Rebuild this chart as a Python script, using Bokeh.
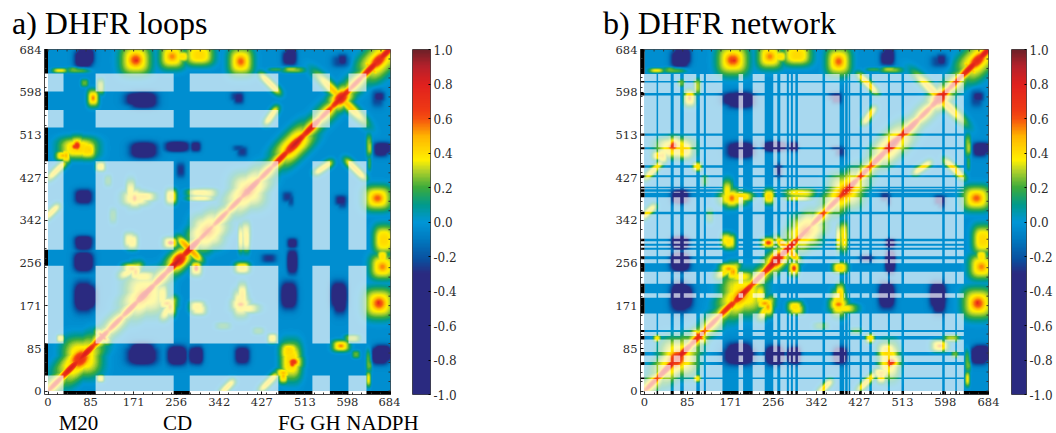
import numpy as np
from bokeh.core.properties import value
from bokeh.embed import file_html
from bokeh.resources import INLINE
from bokeh.layouts import column, row
from bokeh.models import FixedTicker, LinearColorMapper, PrintfTickFormatter, Range1d
from bokeh.plotting import figure

tick_values = [0, 85, 171, 256, 342, 427, 513, 598, 684]
fine_ticks = list(range(0, 684, 19))
bar_ticks = [-1.0, -0.8, -0.6, -0.4, -0.2, 0.0, 0.2, 0.4, 0.6, 0.8, 1.0]
titles = ["a) DHFR loops", "b) DHFR network"]
loop_names = ["M20", "CD", "FG", "GH", "NADPH"]
loop_centres = [61, 259, 487, 555, 669]

# residues left unfaded in each panel
segments_a = [(31, 95), (251, 283), (460, 528), (563, 600), (636, 684)]
segments_b = [(24, 27), (52, 58), (71, 78), (103, 110), (118, 122), (155, 187), (196, 215),
              (239, 256), (264, 270), (283, 287), (291, 295), (300, 305), (354, 359),
              (388, 397), (399, 404), (406, 409), (428, 432), (447, 452), (484, 488),
              (511, 516), (592, 597), (618, 621), (635, 684)]

# colour scale
scale_values = [-1.0, -0.3, -0.22, -0.1, 0.0, 0.1, 0.2, 0.3, 0.36, 0.5, 0.6, 0.65, 0.8, 0.9, 1.0]
scale_colors = ["#2a2a80", "#2a2a80", "#0a4f9e", "#007ac0", "#0096d6", "#009a8c", "#3cab3c",
                "#b4d22a", "#fff000", "#ffb400", "#f5500f", "#ef3a14", "#e0201e", "#b8202a", "#6e2028"]

# diagonal ridge: position, amplitude
ridge_pos = [15, 45, 75, 105, 135, 165, 195, 225, 255, 285, 315, 345, 375, 405, 435, 465, 495,
             525, 555, 585, 615, 645, 675]
ridge_amp = [.72, .85, .85, .75, .72, .75, .85, .75, .9, .85, .72, .72, .72, .85, .72, .8, .9,
             .85, .72, .85, .72, .85, .85]

# thin oblique patches: x, y, half-length, short sigma, angle, value
streaks = [
    (585, 585, 64, 8, 135, .48), (283, 283, 30, 7, 135, .55), (645, 645, 16, 3, 135, .55),
    (18, 441, 24, 6, 45, .44), (8, 358, 18, 6, 45, .44), (443, 614, 26, 6, 135, .46),
    (446, 550, 20, 6, 55, .44), (165, 240, 24, 8, 30, .42),
]
# correlation blocks: x, y, half-width, half-height, angle, value
warm = [
    (62, 62, 30, 15, 45, .5), (62, 66, 22, 14, 45, .72), (108, 110, 10, 5, 135, .7),
    (68, 68, 20, 20, 0, .45),
    (190, 190, 26, 16, 45, .62), (190, 190, 22, 8, 45, .84), (195, 195, 22, 22, 0, .42),
    (262, 262, 17, 11, 45, .85), (318, 320, 22, 15, 45, .6), (318, 320, 16, 16, 0, .42),
    (400, 398, 28, 14, 45, .62), (398, 398, 12, 8, 45, .8), (400, 400, 18, 18, 0, .42),
    (491, 491, 28, 9, 45, .84), (491, 491, 26, 14, 45, .45),
    (585, 585, 16, 11, 45, .85), (660, 660, 22, 11, 45, .78), (660, 660, 24, 16, 45, .42),
    (175, 661, 16, 16, 0, .66), (176, 660, 6, 5, 0, .78), (248, 668, 13, 13, 0, .58),
    (268, 668, 8, 6, 0, .42), (302, 671, 15, 11, 0, .44), (385, 658, 13, 15, 0, .62),
    (90, 585, 6, 9, 0, .58), (55, 488, 9, 7, 0, .7), (82, 481, 7, 8, 0, .46), (36, 470, 5, 8, 0, .5),
    (60, 485, 20, 11, 0, .44), (78, 482, 10, 10, 0, .44), (58, 490, 8, 10, 0, .72), (30, 470, 8, 5, 0, .5),
    (173, 385, 7, 10, 0, .6), (190, 388, 13, 5, 0, .46), (246, 388, 6, 8, 0, .45),
    (305, 396, 14, 4, 0, .42), (305, 385, 14, 3, 0, .4),
    (168, 244, 10, 6, 0, .55), (238, 175, 10, 6, 0, .55), (228, 190, 14, 6, 90, .4),
    (385, 175, 8, 14, 0, .44), (395, 165, 14, 5, 0, .4), (298, 168, 8, 6, 0, .42),
    (395, 315, 5, 12, 0, .38), (163, 301, 6, 8, 0, .4), (245, 296, 8, 6, 0, .68),
    (24, 640, 8, 2.5, 0, .38), (54, 643, 6, 2, 0, .3), (486, 643, 8, 2.5, 0, .36), (455, 642, 8, 2, 0, .2),
    (105, 608, 4, 8, 0, .33), (73, 615, 4, 4, 0, .26), (105, 448, 5, 5, 0, .42), (24, 105, 3, 3, 0, .4),
    (105, 25, 4, 4, 0, .4), (641, 60, 3, 12, 0, .3), (641, 490, 3, 12, 0, .3),
    (350, 130, 8, 4, 0, .2), (420, 120, 6, 4, 0, .2),
]
cool = [
    (71, 663, 12, 12, 0, -.48), (481, 665, 9, 10, 0, -.38), (585, 658, 12, 8, 0, -.22),
    (185, 583, 20, 9, 0, -.48), (378, 588, 9, 6, 0, -.24), (661, 588, 8, 7, 0, -.3),
    (188, 481, 15, 9, 0, -.48), (258, 488, 16, 7, 0, -.48), (295, 488, 7, 6, 0, -.36),
    (668, 485, 12, 8, 0, -.42), (381, 485, 8, 4, 0, -.2),
    (71, 388, 12, 10, 0, -.42), (71, 295, 12, 10, 0, -.42), (71, 258, 12, 12, 0, -.48),
    (71, 188, 13, 20, 0, -.48), (188, 75, 17, 14, 0, -.52), (258, 71, 13, 13, 0, -.52),
    (298, 71, 8, 12, 0, -.48), (388, 75, 10, 8, 0, -.42), (668, 75, 12, 11, 0, -.52),
    (481, 191, 11, 18, 0, -.48), (581, 191, 11, 18, 0, -.48), (488, 295, 7, 7, 0, -.36),
    (488, 258, 7, 12, 0, -.48), (478, 388, 7, 7, 0, -.24), (585, 381, 8, 7, 0, -.3),
    (265, 441, 6, 10, 0, -.25),
]
base_level = -0.03


def rotated(X, Y, item):
    x0, y0, s_long, s_short, angle, level = item
    t = np.deg2rad(angle)
    u = (X - x0) * np.cos(t) + (Y - y0) * np.sin(t)
    v = -(X - x0) * np.sin(t) + (Y - y0) * np.cos(t)
    return u / s_long, v / s_short, level


def soft(X, Y, item):
    u, v, level = rotated(X, Y, item)
    return level * np.exp(-0.5 * (u ** 2 + v ** 2))


def streak(X, Y, item):
    u, v, level = rotated(X, Y, item)
    return level * np.exp(-0.5 * (np.abs(u) ** 4 + v ** 2))


def block(X, Y, item, grow, top=None):
    u, v, level = rotated(X, Y, item)
    if top is not None:
        level = min(level, top)
    return level * np.exp(-0.5 * (np.abs(u / grow) ** 3 + np.abs(v / grow) ** 3))


axis_cells = np.arange(0, 684, 2) + 1.0
X, Y = np.meshgrid(axis_cells, axis_cells)
hot = np.zeros_like(X)
for pos, amp in zip(ridge_pos, ridge_amp):
    hot = np.maximum(hot, soft(X, Y, (pos, pos, 34, 6.5, 45, amp)))
    hot = np.maximum(hot, soft(X, Y, (pos, pos, 34, 13, 45, .44)))
for item in streaks:
    hot = np.maximum(hot, streak(X, Y, item))
for item in warm:
    hot = np.maximum(hot, block(X, Y, item, 1.6, top=.44))
    hot = np.maximum(hot, soft(X, Y, item))
cold = np.zeros_like(X)
for item in cool:
    cold = np.minimum(cold, block(X, Y, item, 1.2))
hot = np.maximum(hot, hot.T)
cold = np.minimum(cold, cold.T)
field = np.clip(base_level + hot + cold, -1, 1)


def build_palette():
    rgb = np.array([[int(c[i:i + 2], 16) for i in (1, 3, 5)] for c in scale_colors], float)
    out = []
    for lv in np.linspace(-1, 1, 256):
        out.append("#%02x%02x%02x" % tuple(int(round(np.interp(lv, scale_values, rgb[:, k]))) for k in range(3)))
    return out


mapper = LinearColorMapper(palette=build_palette(), low=-1, high=1)
TICK_FONT = "DejaVu Serif"
TEXT_FONT = value("Liberation Serif")
TOP_B, BOTTOM_B = 9, 17
ROW_H = TOP_B + 345 + BOTTOM_B


def complement(segments):
    out, start = [], 0
    for a, b in segments:
        if a > start:
            out.append((start, a))
        start = max(start, b)
    if start < 684:
        out.append((start, 684))
    return out


def panel(segments, left_edge, width, border_l, border_r):
    p = figure(width=width, height=ROW_H, output_backend="svg", toolbar_location=None,
               x_range=Range1d(left_edge, 684), y_range=Range1d(-7, 684),
               min_border_left=border_l, min_border_right=border_r, min_border_top=TOP_B, min_border_bottom=BOTTOM_B,
               background_fill_color="white", outline_line_color="#444444", outline_line_width=1)
    p.grid.visible = False
    p.image(image=[field], x=0, y=0, dw=684, dh=684, color_mapper=mapper)
    light = complement(segments)
    xs0, xs1, ys0, ys1 = [], [], [], []
    for a, b in light:
        for c, d in light:
            xs0.append(a); xs1.append(b); ys0.append(c); ys1.append(d)
    p.quad(left=xs0, right=xs1, bottom=ys0, top=ys1, fill_color="white", fill_alpha=0.66, line_color=None)
    lo = [s[0] for s in segments]
    hi = [s[1] for s in segments]
    n = len(segments)
    p.quad(left=lo, right=hi, bottom=[-7] * n, top=[0] * n, fill_color="black", line_color=None)
    p.quad(left=[left_edge] * n, right=[0] * n, bottom=lo, top=hi, fill_color="black", line_color=None)
    nf = len(fine_ticks)
    p.segment(x0=fine_ticks, x1=fine_ticks, y0=[684] * nf, y1=[680] * nf, line_color="#333333", line_width=1)
    p.segment(x0=[684] * nf, x1=[680] * nf, y0=fine_ticks, y1=fine_ticks, line_color="#333333", line_width=1)
    for ax in (p.xaxis[0], p.yaxis[0]):
        ax.ticker = FixedTicker(ticks=tick_values, minor_ticks=fine_ticks)
        ax.major_label_text_font = TICK_FONT
        ax.major_label_text_font_size = "11.5px"
        ax.major_label_text_color = "#2a2a2a"
        ax.major_label_standoff = 3
        ax.major_tick_in = 3
        ax.major_tick_out = 0
        ax.minor_tick_in = 2
        ax.minor_tick_out = 0
        ax.minor_tick_line_color = "#333333"
        ax.axis_line_color = None
    p.yaxis[0].major_label_orientation = "horizontal"
    return p


def color_bar(width, border_l, border_r):
    b = figure(width=width, height=ROW_H, output_backend="svg", toolbar_location=None,
               x_range=Range1d(0, 1), y_range=Range1d(-1, 1),
               min_border_left=border_l, min_border_right=border_r, min_border_top=TOP_B, min_border_bottom=BOTTOM_B,
               outline_line_color="#444444", outline_line_width=1, y_axis_location="right")
    b.grid.visible = False
    b.xaxis.visible = False
    ramp = np.linspace(-1, 1, 256).reshape(-1, 1)
    b.image(image=[ramp], x=0, y=-1, dw=1, dh=2, color_mapper=mapper)
    ax = b.yaxis[0]
    ax.ticker = FixedTicker(ticks=bar_ticks)
    ax.formatter = PrintfTickFormatter(format="%.1f")
    ax.major_label_text_font = TICK_FONT
    ax.major_label_text_font_size = "12px"
    ax.major_label_text_color = "#2a2a2a"
    ax.major_label_standoff = 3
    ax.major_tick_in = 2
    ax.major_tick_out = 0
    ax.axis_line_color = None
    ax.minor_tick_line_color = None
    return b


def strip(height, x_range, y_range):
    s = figure(width=1055, height=height, output_backend="svg", toolbar_location=None,
               x_range=x_range, y_range=y_range, min_border=0, outline_line_color=None)
    s.axis.visible = False
    s.grid.visible = False
    return s


# title strip: one data unit is one pixel
head = strip(40, Range1d(0, 1055), Range1d(0, 40))
head.text(x=[11.5, 602.5], y=[17.5, 17.5], text=titles, text_font=TEXT_FONT, text_font_size="32px",
          text_color="black", text_baseline="alphabetic", text_align="left")

# loop names share the residue scale of panel a (0.5 pixel per residue, residue 0 at pixel 47.5)
foot = strip(22, Range1d(-95, -95 + 2 * 1055), Range1d(0, 22))
foot.text(x=loop_centres, y=[11] * len(loop_centres), text=loop_names, text_font=TEXT_FONT, text_font_size="21px",
          text_color="black", text_baseline="alphabetic", text_align="center")

pa = panel(segments_a, -7, 400, 44, 10)
ba = color_bar(70, 12, 40)
pb = panel(segments_b, -8, 530, 170, 12)
bb = color_bar(55, 11, 27)

page = column(head, row(pa, ba, pb, bb, spacing=0), foot, spacing=0)
open("out.html", "w").write(file_html(page, INLINE))
